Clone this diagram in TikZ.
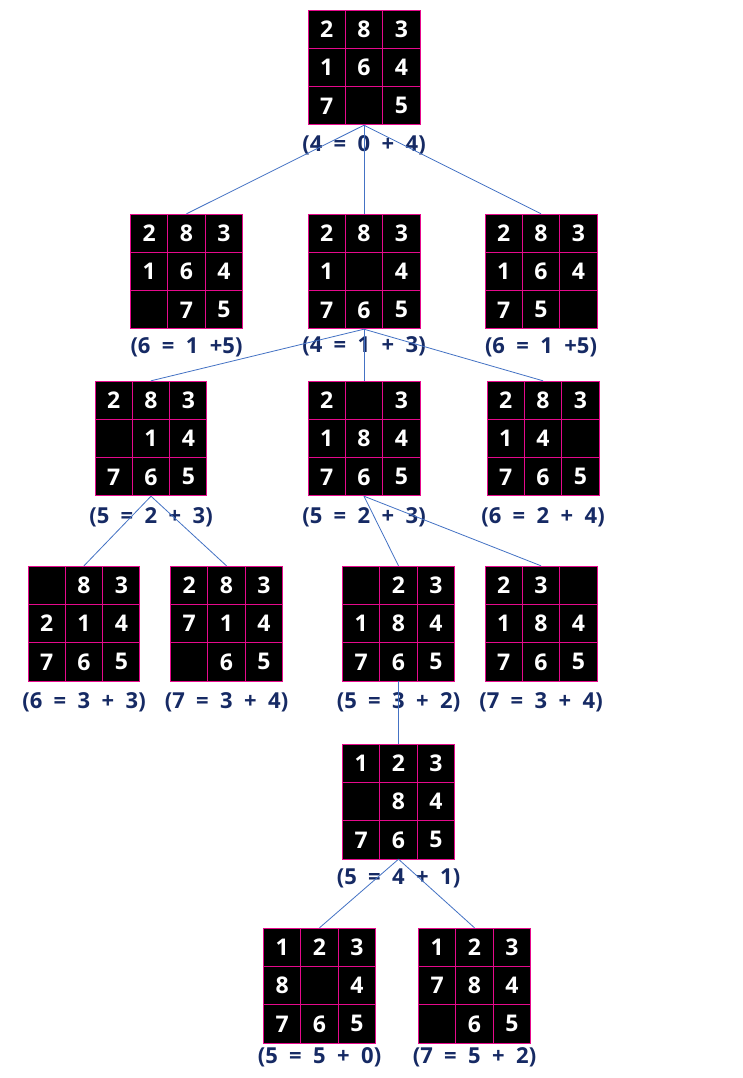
\documentclass[tikz,border=0pt]{standalone}
\usepackage{fontspec}
\setmainfont{Open Sans}
\newfontfamily\lblfont[WordSpace=2.0]{Open Sans}
\definecolor{mag}{RGB}{230,10,140}
\definecolor{edgeblue}{RGB}{68,114,196}
\definecolor{navy}{RGB}{22,42,100}
\tikzset{
  gridbox/.style={rectangle,inner sep=0pt,minimum width=112pt,minimum height=115pt},
  cellbox/.style={rectangle,draw=mag,line width=1pt,fill=black,text=white,inner sep=0pt,
    minimum width=37.33pt,minimum height=38.33pt,font=\fontsize{23}{26}\selectfont\bfseries},
  lbl/.style={text=navy,inner sep=0pt,font=\lblfont\fontsize{22}{25}\selectfont\bfseries},
  edge/.style={draw=edgeblue,line width=0.8pt}
}
\newcommand\puz[6]{%
  \node[gridbox] (#1) at (#2,#3+57.5) {};
  \foreach \d [count=\i from 0] in {#4} {%
    \pgfmathsetmacro\px{#2+(mod(\i,3)-1)*37.33}%
    \pgfmathsetmacro\py{#3+19.17+int(\i/3)*38.33}%
    \node[cellbox] (#1-\i) at (\px,\py) {\d};
  }
  \node[lbl] (#1-l) at (#2,#3+115+#6) {#5};
}
\begin{document}
\begin{tikzpicture}[x=1pt,y=-1pt]
\fill[white] (0,0) rectangle (743,1078);
\useasboundingbox (0,0) rectangle (743,1078);
% row 1
\puz{r}{364}{10}{2,8,3,1,6,4,7,{},5}{(4 = 0 + 4)}{20}
% row 2
\puz{a}{186.5}{214}{2,8,3,1,6,4,{},7,5}{(6 = 1 +5)}{18}
\puz{b}{364}{214}{2,8,3,1,{},4,7,6,5}{(4 = 1 + 3)}{17}
\puz{c}{541}{214}{2,8,3,1,6,4,7,5,{}}{(6 = 1 +5)}{18}
% row 3
\puz{d}{151}{381}{2,8,3,{},1,4,7,6,5}{(5 = 2 + 3)}{21}
\puz{e}{364}{381}{2,{},3,1,8,4,7,6,5}{(5 = 2 + 3)}{21}
\puz{f}{543}{381}{2,8,3,1,4,{},7,6,5}{(6 = 2 + 4)}{21}
% row 4
\puz{g}{84}{566}{{},8,3,2,1,4,7,6,5}{(6 = 3 + 3)}{21}
\puz{h}{226.5}{566}{2,8,3,7,1,4,{},6,5}{(7 = 3 + 4)}{21}
\puz{i}{398.5}{566}{{},2,3,1,8,4,7,6,5}{(5 = 3 + 2)}{21}
\puz{j}{541}{566}{2,3,{},1,8,4,7,6,5}{(7 = 3 + 4)}{21}
% row 5
\puz{k}{398.5}{744}{1,2,3,{},8,4,7,6,5}{(5 = 4 + 1)}{19}
% row 6
\puz{m}{319.5}{928}{1,2,3,8,{},4,7,6,5}{(5 = 5 + 0)}{14}
\puz{n}{474.5}{928}{1,2,3,7,8,4,{},6,5}{(7 = 5 + 2)}{14}
% edges
\draw[edge] (r.south) -- (a.north);
\draw[edge] (r.south) -- (b.north);
\draw[edge] (r.south) -- (c.north);
\draw[edge] (b.south) -- (d.north);
\draw[edge] (b.south) -- (e.north);
\draw[edge] (b.south) -- (f.north);
\draw[edge] (d.south) -- (g.north);
\draw[edge] (d.south) -- (h.north);
\draw[edge] (e.south) -- (i.north);
\draw[edge] (e.south) -- (j.north);
\draw[edge] (i.south) -- (k.north);
\draw[edge] (k.south) -- (m.north);
\draw[edge] (k.south) -- (n.north);
\end{tikzpicture}
\end{document}
